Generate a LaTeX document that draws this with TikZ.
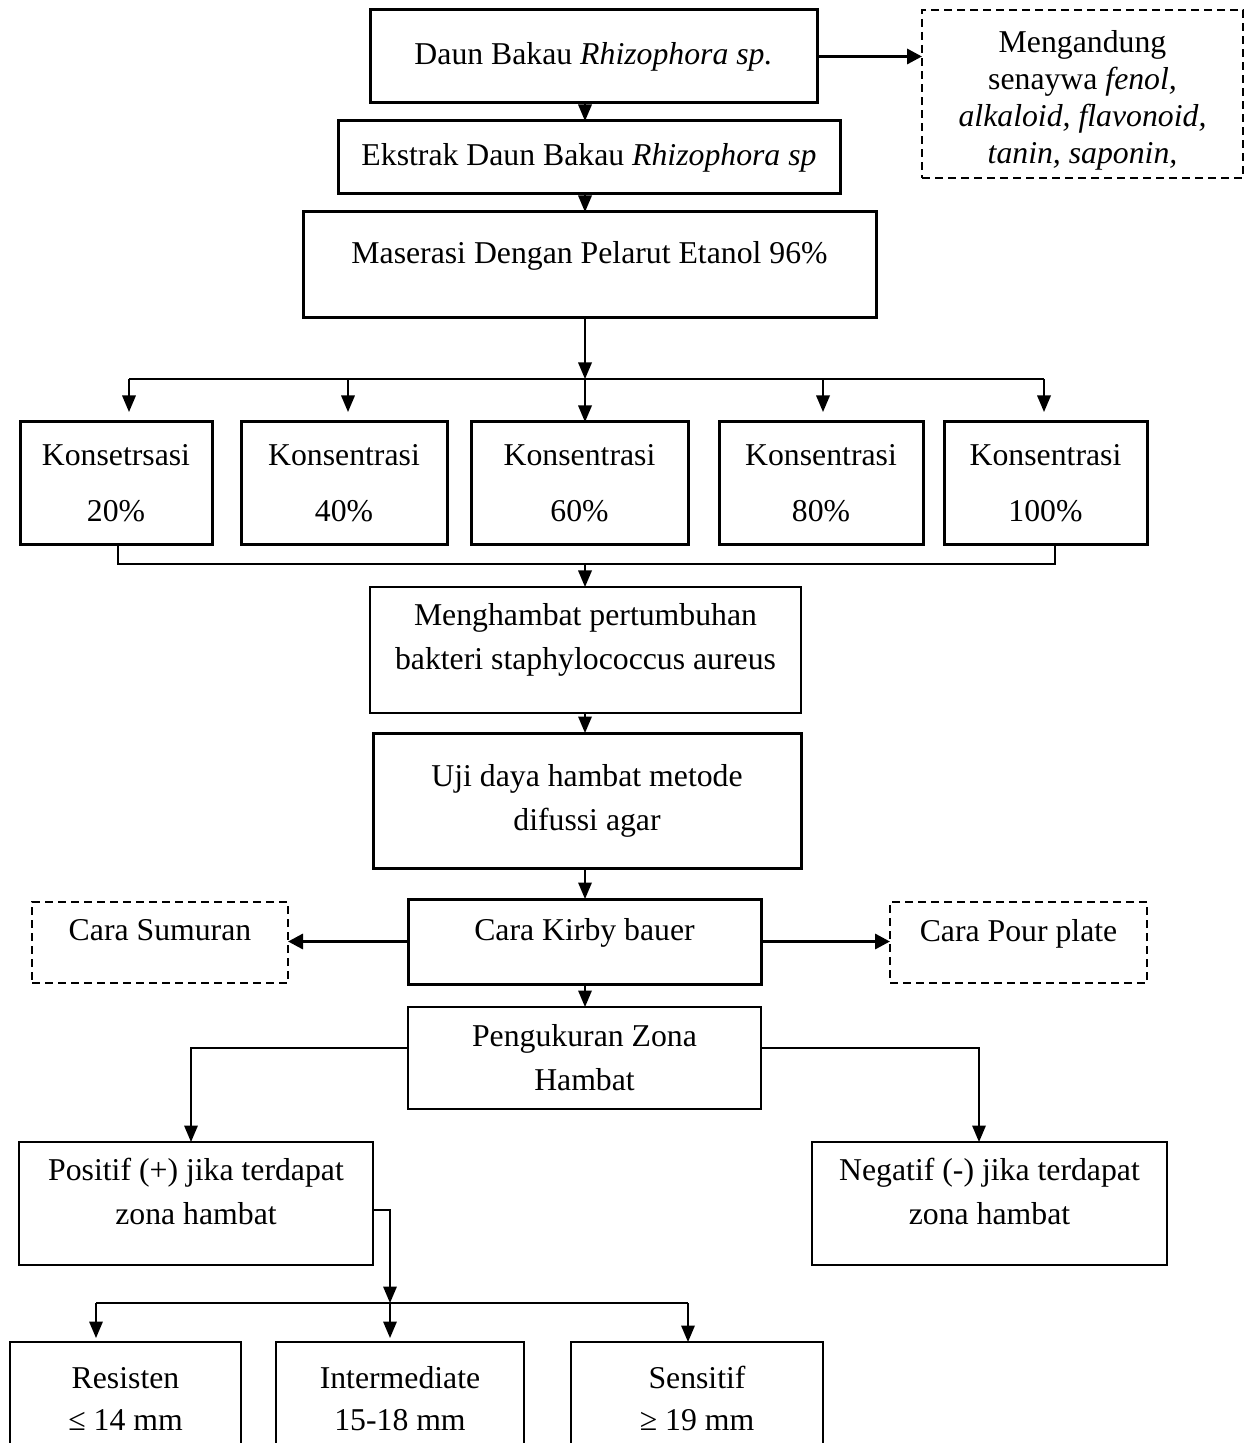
\documentclass[tikz,border=0pt]{standalone}
\usepackage{fontspec}
\setmainfont{Liberation Serif}
\usetikzlibrary{arrows.meta}
\begin{document}
\begin{tikzpicture}[x=0.4pt,y=-0.4pt,
  every node/.style={font=\fontsize{12.7pt}{17.6pt}\selectfont, inner sep=0pt, outer sep=0pt, align=center},
  box/.style={draw, line width=0.8pt},
  thickbox/.style={draw, line width=1.2pt},
  dbox/.style={draw, line width=0.9pt, dash pattern=on 3.2pt off 2pt},
  wh/.style 2 args={minimum width=#1*0.4pt, minimum height=#2*0.4pt},
  arr/.style={line width=0.7pt, -{Triangle[length=6.6pt,width=5.4pt]}},
  tarr/.style={line width=1.3pt, -{Triangle[length=6pt,width=6pt]}},
  ln/.style={line width=0.7pt},
  wide/.style={font=\fontsize{12.7pt}{22.4pt}\selectfont},
  mid/.style={font=\fontsize{12.7pt}{16.8pt}\selectfont},
  tight/.style={font=\fontsize{12.7pt}{14.8pt}\selectfont}]
\useasboundingbox (0,0) rectangle (1246,1443);

% nodes
\node[thickbox, wh={447}{93}] (b1) at (593.5,56.5) {Daun Bakau \textit{Rhizophora sp.}};
\node[dbox, tight, wh={321}{168}] (mg) at (1082.5,94) {\rule{0pt}{14pt}Mengandung\\ senaywa \textit{fenol,}\\ \textit{alkaloid, flavonoid,}\\ \textit{tanin, saponin,}};
\node[thickbox, wh={502}{73}] (b2) at (589,157.5) {Ekstrak Daun Bakau \textit{Rhizophora sp}};
\node[thickbox, wh={573}{106}, text depth=10pt] (b3) at (589.5,265) {Maserasi Dengan Pelarut Etanol 96\%};

\node[thickbox, wide, wh={192}{123}] (k1) at (116,483.5) {Konsetrsasi\\20\%};
\node[thickbox, wide, wh={206}{123}] (k2) at (344,483.5) {Konsentrasi\\40\%};
\node[thickbox, wide, wh={217}{123}] (k3) at (579.5,483.5) {Konsentrasi\\60\%};
\node[thickbox, wide, wh={204}{123}] (k4) at (821,483.5) {Konsentrasi\\80\%};
\node[thickbox, wide, wh={203}{123}] (k5) at (1045.5,483.5) {Konsentrasi\\100\%};

\node[box, wh={431}{126}, text depth=11pt] (mh) at (585.5,650) {Menghambat pertumbuhan\\bakteri staphylococcus aureus};
\node[thickbox, wh={428}{135}] (uji) at (587,800.5) {Uji daya hambat metode\\difussi agar};
\node[thickbox, wh={353}{85}, text depth=10pt] (kb) at (584.5,941.5) {Cara Kirby bauer};
\node[dbox, wh={256}{81}, text depth=10pt] (cs) at (160,942.5) {Cara Sumuran};
\node[dbox, wh={257}{81}, text depth=10pt] (cp) at (1018.5,942.5) {Cara Pour plate};
\node[box, wh={353}{102}] (pz) at (584.5,1058) {Pengukuran Zona\\Hambat};
\node[box, wh={354}{123}, text depth=9.5pt] (pos) at (196,1203.5) {Positif (+) jika terdapat\\zona hambat};
\node[box, wh={355}{123}, text depth=9.5pt] (neg) at (989.5,1203.5) {Negatif (-) jika terdapat\\zona hambat};
\node[box, mid, wh={231}{113}] (res) at (125.5,1398.5) {Resisten\\≤ 14 mm};
\node[box, mid, wh={248}{113}] (int) at (400,1398.5) {Intermediate\\15-18 mm};
\node[box, mid, wh={252}{113}] (sen) at (697,1398.5) {Sensitif\\≥ 19 mm};

% helper coordinates
\coordinate (cx) at (585,0);
\coordinate (j1) at (585,379);
\coordinate (j1l) at (129,379);
\coordinate (j1r) at (1044,379);
\coordinate (a1) at (129,412);
\coordinate (a2) at (348,412);
\coordinate (a4) at (823,412);
\coordinate (a5) at (1044,412);
\coordinate (q1) at (118,0);
\coordinate (q5) at (1055,0);
\coordinate (j2) at (585,564);
\coordinate (py) at (0,1048);
\coordinate (px1) at (191,0);
\coordinate (px2) at (979,0);
\coordinate (py2) at (0,1210);
\coordinate (j3) at (390,1303);
\coordinate (j3l) at (96,1303);
\coordinate (j3r) at (688,1303);
\coordinate (r1) at (96,1338);
\coordinate (r2) at (390,1338);

% connectors
\draw[tarr] (b1.east) -- (b1.east -| mg.west);
\draw[arr] (b1.south -| cx) -- (b2.north -| cx);
\draw[arr] (b2.south -| cx) -- (b3.north -| cx);
\draw[arr] (b3.south -| cx) -- (j1);
\draw[ln] (j1l) -- (j1r);
\draw[arr] (j1l) -- (a1);
\draw[arr] (j1 -| a2) -- (a2);
\draw[arr] (j1) -- (k3.north -| cx);
\draw[arr] (j1 -| a4) -- (a4);
\draw[arr] (j1r) -- (a5);
\draw[ln] (k1.south -| q1) -- (q1 |- j2) -- (q5 |- j2) -- (k5.south -| q5);
\draw[arr] (j2) -- (mh.north -| cx);
\draw[arr] (mh.south -| cx) -- (uji.north -| cx);
\draw[arr] (uji.south -| cx) -- (kb.north -| cx);
\draw[tarr] (kb.west) -- (kb.west -| cs.east);
\draw[tarr] (kb.east) -- (kb.east -| cp.west);
\draw[arr] (kb.south -| cx) -- (pz.north -| cx);
\draw[arr] (pz.west |- py) -| (pos.north -| px1);
\draw[arr] (pz.east |- py) -| (neg.north -| px2);
\draw[arr] (pos.east |- py2) -| (j3);
\draw[ln] (j3l) -- (j3r);
\draw[arr] (j3l) -- (r1);
\draw[arr] (j3) -- (r2);
\draw[arr] (j3r) -- (sen.north -| j3r);
\end{tikzpicture}
\end{document}
